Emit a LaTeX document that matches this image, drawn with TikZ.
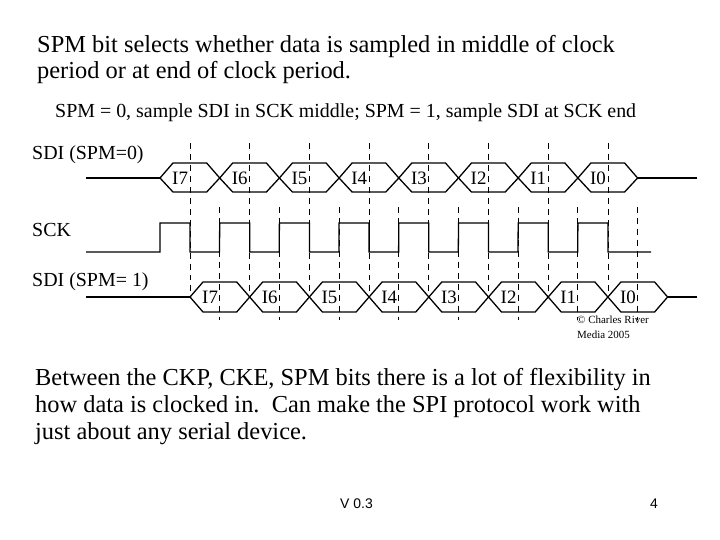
\documentclass[tikz,border=0pt]{standalone}
\usepackage{fontspec}
\setmainfont{Liberation Serif}
\setsansfont{Liberation Sans}
\begin{document}
\begin{tikzpicture}[x=1bp,y=-1bp,
  big/.style={anchor=base west,inner sep=0pt,font=\fontsize{24.5}{28}\selectfont},
  mid/.style={anchor=base west,inner sep=0pt,font=\fontsize{20}{22}\selectfont},
  cell/.style={anchor=west,inner sep=0pt,font=\fontsize{19}{22}\selectfont},
  sig/.style={line width=1.3pt},
  dsh/.style={dash pattern=on 6pt off 5pt,line width=0.7pt}]
\useasboundingbox (0,0) rectangle (720,540);
\node[big] (t1) at (37,53) {SPM bit selects whether data is sampled in middle of clock};
\node[big] (t2) at (37,79) {period or at end of clock period.};
\node[mid] (t3) at (55,118) {SPM = 0, sample SDI in SCK middle; SPM = 1, sample SDI at SCK end};
\node[mid] (l1) at (32,160) {SDI (SPM=0)};
\node[mid] (l2) at (32,237) {SCK};
\node[mid] (l3) at (32,287) {SDI (SPM= 1)};
% dashed lines
\foreach \i in {0,...,7} {
  \draw[dsh] ({190+59.7*\i},143) -- ({190+59.7*\i},296);
  \draw[dsh] ({219.5+59.7*\i},207) -- ({219.5+59.7*\i},320);
}
% SDI0
\draw[sig] (86,178) -- (160,178);
\foreach \i/\lab in {0/I7,1/I6,2/I5,3/I4,4/I3,5/I2,6/I1,7/I0} {
  \pgfmathsetmacro\a{160+59.7*\i}
  \pgfmathsetmacro\b{\a+59.7}
  \draw[sig] (\a,178) -- (\a+13,163) -- (\b-13,163) -- (\b,178) -- (\b-13,192) -- (\a+13,192) -- cycle;
  \node[cell] (s\i) at (\a+12,178) {\lab};
}
\draw[sig] ({160+59.7*8},178) -- (697,178);
% SCK
\draw[sig] (86,252) -- (160,252)
\foreach \i in {0,...,7} { -- ({160+59.7*\i},223) -- ({190+59.7*\i},223) -- ({190+59.7*\i},252) -- ({219.5+59.7*\i},252) }
 -- (651,252);
% SDI1
\draw[sig] (86,297) -- (190,297);
\foreach \i/\lab in {0/I7,1/I6,2/I5,3/I4,4/I3,5/I2,6/I1,7/I0} {
  \pgfmathsetmacro\a{190+59.7*\i}
  \pgfmathsetmacro\b{\a+59.7}
  \draw[sig] (\a,297) -- (\a+13,282) -- (\b-13,282) -- (\b,297) -- (\b-13,312) -- (\a+13,312) -- cycle;
  \node[cell] (r\i) at (\a+12,297) {\lab};
}
\draw[sig] ({190+59.7*8},297) -- (697,297);
\node[anchor=base west,inner sep=0pt,font=\fontsize{11}{15}\selectfont,align=left] (c) at (577,338) {\textcopyright{} Charles River\\Media 2005};
\node[big] (b1) at (35,385) {Between the CKP, CKE, SPM bits there is a lot of flexibility in};
\node[big] (b2) at (35,412) {how data is clocked in.\ \ Can make the SPI protocol work with};
\node[big] (b3) at (35,439) {just about any serial device.};
\node[anchor=base west,inner sep=0pt,font=\sffamily\fontsize{14}{16}\selectfont] (v) at (340,508) {V 0.3};
\node[anchor=base west,inner sep=0pt,font=\sffamily\fontsize{14}{16}\selectfont] (p) at (650,508) {4};
\end{tikzpicture}
\end{document}
